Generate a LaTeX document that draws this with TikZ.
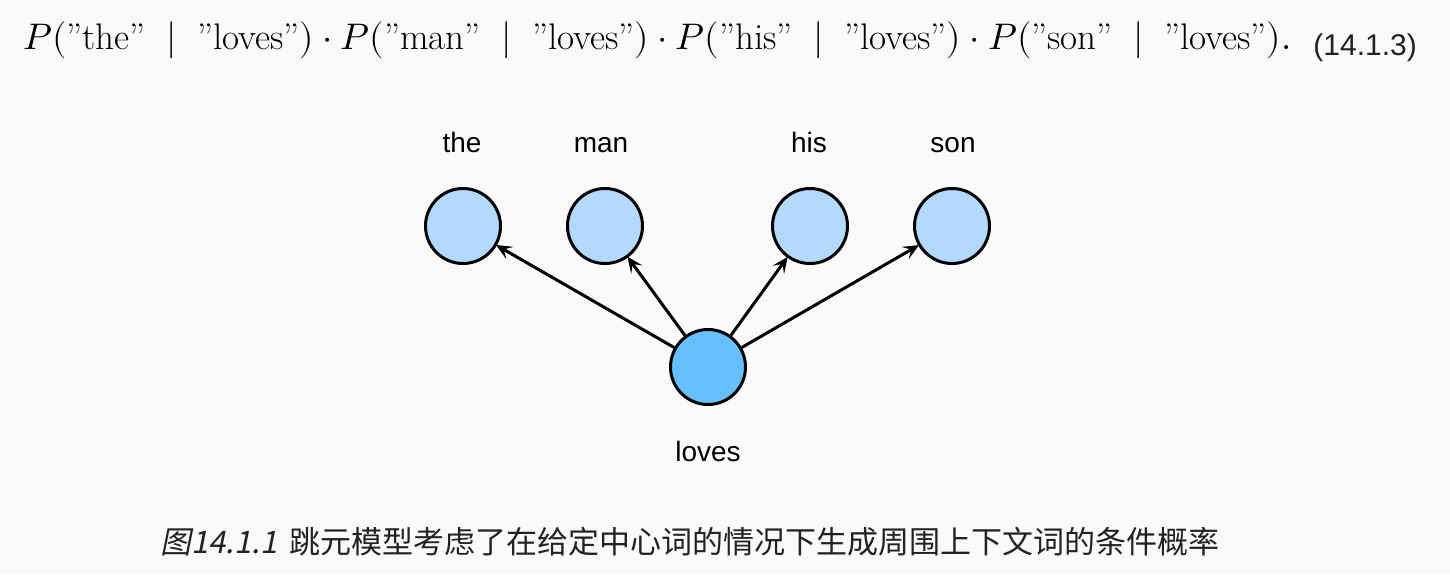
\documentclass[tikz,border=0pt]{standalone}
\usepackage{amsmath}
\usepackage{fontspec}
\usepackage{unicode-math}
\setmathfont{Latin Modern Math}
\newfontfamily\lsans{Liberation Sans}
\newfontfamily\cjk{Noto Sans CJK SC}
\newfontfamily\cjkit[FakeSlant=0.2]{Noto Sans CJK SC}
\usetikzlibrary{arrows.meta}
\definecolor{bg}{RGB}{250,250,250}
\definecolor{ctxfill}{RGB}{179,217,255}
\definecolor{cenfill}{RGB}{102,191,255}
\definecolor{txt}{RGB}{34,34,34}
\newcommand\condp[2]{P(\text{''#1''\hspace{0.28em}}\mid\text{\hspace{0.28em}''#2''})}
\tikzset{
  word/.style={circle,draw=black,line width=3pt,minimum size=75pt,inner sep=0pt},
  ctx/.style={word,fill=ctxfill},
  cen/.style={word,fill=cenfill},
  lbl/.style={font=\lsans\fontsize{28}{32}\selectfont,anchor=base,inner sep=0pt},
  conn/.style={line width=3pt,shorten >=-1pt,-{Stealth[length=16pt,width=14pt,inset=7pt]}},
}
\begin{document}
\begin{tikzpicture}[x=1pt,y=-1pt]
\fill[bg] (0,0) rectangle (1450,574);
\useasboundingbox (0,0) rectangle (1450,574);
\node[anchor=base west,inner sep=0pt,font=\fontsize{37}{42}\selectfont] (eq) at (23,49)
 {$\condp{the}{loves}\cdot\condp{man}{loves}\cdot\condp{his}{loves}\cdot\condp{son}{loves}.$};
\node[anchor=base east,inner sep=0pt,text=txt,font=\lsans\fontsize{30}{34}\selectfont] (eqn) at (1417,55) {(14.1.3)};
\node[ctx] (the) at (463,226) {};
\node[ctx] (man) at (605,226) {};
\node[ctx] (his) at (810,226) {};
\node[ctx] (son) at (952,226) {};
\node[cen] (loves) at (708,367) {};
\node[lbl] (lthe) at (462,152) {the};
\node[lbl] (lman) at (601,152) {man};
\node[lbl] (lhis) at (809,152) {his};
\node[lbl] (lson) at (953,152) {son};
\node[lbl] (lloves) at (708,461) {loves};
\foreach \t in {the,man,his,son} \draw[conn] (loves) -- (\t);
\node[anchor=base west,inner sep=0pt,text=txt] (cap) at (160,553)
 {\cjkit\fontsize{31}{36}\selectfont 图14.1.1\hspace{12pt}\cjk 跳元模型考虑了在给定中心词的情况下生成周围上下文词的条件概率};
\end{tikzpicture}
\end{document}
